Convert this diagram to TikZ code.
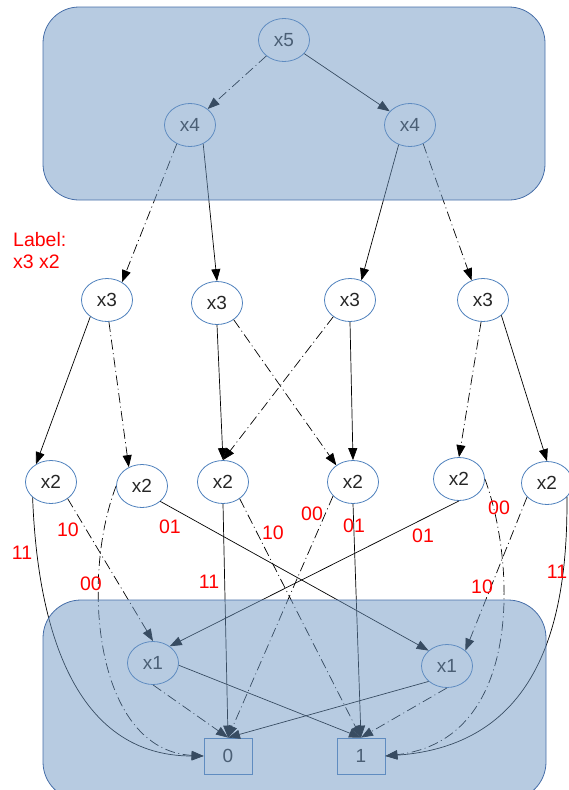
\documentclass[tikz,border=0pt]{standalone}
\usepackage{fontspec}
\setmainfont{Liberation Sans}
\usetikzlibrary{arrows.meta,shapes.geometric}

\definecolor{bddblue}{RGB}{79,129,189}
\definecolor{zonefill}{RGB}{112,152,196}
\definecolor{zoneline}{RGB}{70,110,168}

\begin{document}
\begin{tikzpicture}[
  x=1pt, y=-1pt,
  vnode/.style={ellipse, draw=bddblue, line width=0.8pt, minimum width=51pt,
                minimum height=43pt, inner sep=0pt, text=black!85,
                font=\fontsize{19}{21}\selectfont},
  leaf/.style={rectangle, draw=bddblue, line width=0.8pt, minimum width=48pt,
               minimum height=36pt, inner sep=0pt, text=black!85,
               font=\fontsize{19}{21}\selectfont},
  hi/.style={-{Triangle[length=12pt,width=9pt]}, line width=0.7pt},
  lo/.style={hi, dash pattern=on 10pt off 3.5pt on 1pt off 3.5pt},
  lab/.style={text=red, font=\fontsize{19.5}{22}\selectfont, inner sep=0pt},
  zone/.style={draw=zoneline, line width=0.8pt, fill=zonefill, fill opacity=0.5}
]
\useasboundingbox (0,0) rectangle (569,790);
\clip (0,0) rectangle (569,790);

% ---------------- variable nodes ----------------
\node[vnode] (x5)  at (284,40)  {x5};
\node[vnode] (x4l) at (190,125) {x4};
\node[vnode] (x4r) at (410,125) {x4};

\node[vnode] (x3a) at (107,300) {x3};
\node[vnode] (x3b) at (217,303) {x3};
\node[vnode] (x3c) at (350,300) {x3};
\node[vnode] (x3d) at (483,300) {x3};

\node[vnode] (x2a) at (51,482)  {x2};
\node[vnode] (x2b) at (142,486) {x2};
\node[vnode] (x2c) at (223,482) {x2};
\node[vnode] (x2d) at (353,482) {x2};
\node[vnode] (x2e) at (459,479) {x2};
\node[vnode] (x2f) at (547,483) {x2};

\node[vnode] (x1l) at (153,663) {x1};
\node[vnode] (x1r) at (447,666) {x1};

\node[leaf] (t0) at (228,756) {0};
\node[leaf] (t1) at (361,756) {1};

% ---------------- x5 / x4 ----------------
\draw[lo] (x5) -- (x4l);
\draw[hi] (x5) -- (x4r);
\draw[lo] (x4l.235) -- (x3a.50);
\draw[hi] (x4l.305) -- (x3b.north);
\draw[hi] (x4r.240) -- (x3c.60);
\draw[lo] (x4r.305) -- (x3d.120);

% ---------------- x3 ----------------
\draw[hi] (x3a.225) -- (x2a.130);
\draw[lo] (x3a.275) -- (x2b.125);
\draw[hi] (x3b.south) -- (x2c.north);
\draw[lo] (x3b.315) -- (x2d.135);
\draw[lo] (x3c.225) -- (x2c.north);
\draw[hi] (x3c.south) -- (x2d.north);
\draw[lo] (x3d.265) -- (x2e.north);
\draw[hi] (x3d.320) -- (x2f.north);

% ---------------- x2 ----------------
\draw[hi] (x2a.220) .. controls (38,640) and (80,756) .. (t0.west);
\draw[lo] (x2a.315) -- (x1l.north);
\draw[lo] (x2b.west) .. controls (80,580) and (95,750) .. (t0.west);
\draw[hi] (x2b.320) -- (x1r.140);
\draw[hi] (x2c.south) -- (t0.north);
\draw[lo] (x2c.315) -- (t1.north);
\draw[lo] (x2d.215) -- (t0.north);
\draw[hi] (x2d.south) -- (t1.north);
\draw[hi] (x2e.south) -- (x1l.45);
\draw[lo] (x2e.east) .. controls (515,560) and (525,740) .. (t1.east);
\draw[lo] (x2f.215) -- (x1r.40);
\draw[hi] (x2f.325) .. controls (568,620) and (540,745) .. (t1.east);

% ---------------- x1 ----------------
\draw[hi] (x1l.355) -- (t1.north);
\draw[lo] (x1l.south) -- (t0.north);
\draw[hi] (x1r.220) -- (t0.north);
\draw[lo] (x1r.south) -- (t1.north);

% ---------------- edge labels ----------------
\node[lab, anchor=west, align=left] (legend) at (13,251) {Label:\\x3 x2};
\node[lab] (la1) at (22,553)  {11};
\node[lab] (la0) at (68,530)  {10};
\node[lab] (lb0) at (91,584)  {00};
\node[lab] (lb1) at (170,527) {01};
\node[lab] (lc1) at (209,582) {11};
\node[lab] (lc0) at (273,533) {10};
\node[lab] (ld0) at (312,514) {00};
\node[lab] (ld1) at (354,526) {01};
\node[lab] (le1) at (423,536) {01};
\node[lab] (le0) at (499,508) {00};
\node[lab] (lf0) at (482,587) {10};
\node[lab] (lf1) at (557,572) {11};

% ---------------- shaded groups ----------------
\draw[zone, rounded corners=36pt] (43,7) rectangle (545,200);
\draw[zone, rounded corners=38pt] (43,600) rectangle (546,800);

\end{tikzpicture}
\end{document}
